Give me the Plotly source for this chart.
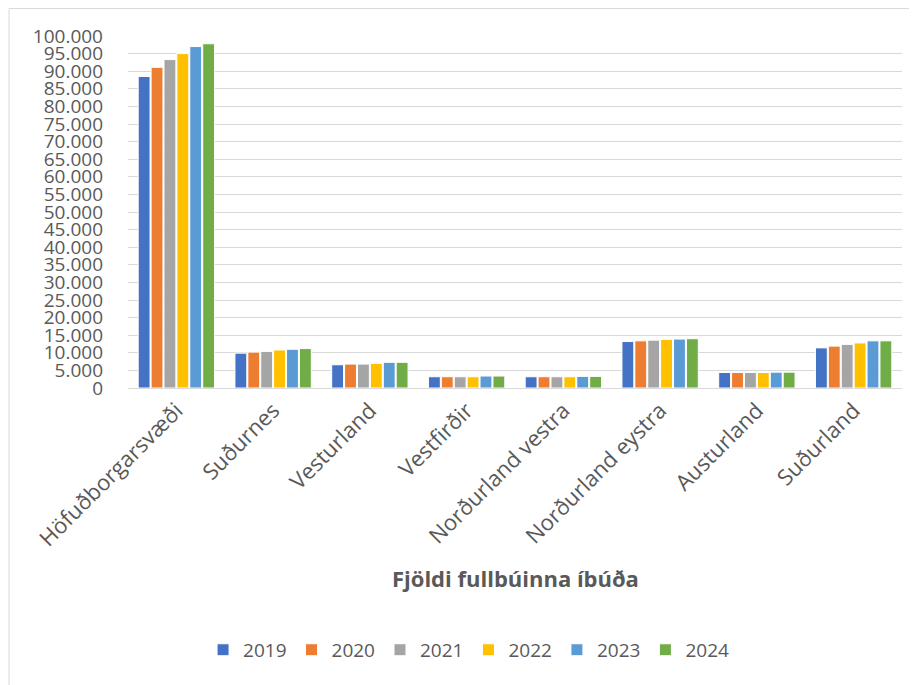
import plotly.graph_objects as go

landshlutar = ['Höfuðborgarsvæði', 'Suðurnes', 'Vesturland', 'Vestfirðir',
               'Norðurland vestra', 'Norðurland eystra', 'Austurland', 'Suðurland']
ar = ['2019', '2020', '2021', '2022', '2023', '2024']
litir = ['#4472C4', '#ED7D31', '#A5A5A5', '#FFC000', '#5B9BD5', '#70AD47']

ibudir_2019 = [88500, 9900, 6600, 3200, 3200, 13200, 4400, 11400]
ibudir_2020 = [91100, 10200, 6800, 3200, 3200, 13400, 4400, 11900]
ibudir_2021 = [93300, 10400, 6800, 3200, 3200, 13600, 4400, 12400]
ibudir_2022 = [95000, 10800, 7000, 3200, 3200, 13800, 4400, 12800]
ibudir_2023 = [97000, 11000, 7300, 3400, 3300, 13900, 4500, 13400]
ibudir_2024 = [97800, 11200, 7300, 3400, 3300, 14000, 4500, 13400]

gogn = [ibudir_2019, ibudir_2020, ibudir_2021, ibudir_2022, ibudir_2023, ibudir_2024]

fig = go.Figure()
for i in range(len(ar)):
    fig.add_trace(go.Bar(x=landshlutar, y=gogn[i], name=ar[i],
                         marker=dict(color=litir[i], line=dict(color='white', width=1))))

# síðan hefur 8px spássíu, svo teiknisvæðið er 120..894 x 28..380 í myndinni
fig.update_layout(
    width=917, height=685,
    barmode='group', bargap=0.2, bargroupgap=0.08,
    separators=',.',
    font=dict(family='Open Sans, sans-serif', color='#595959', size=19),
    plot_bgcolor='white', paper_bgcolor='white',
    margin=dict(l=120, r=23, t=28, b=305),
    xaxis=dict(tickangle=-45, showline=True, linecolor='#D9D9D9', linewidth=1,
               automargin=False, tickfont=dict(size=22, color='#595959')),
    yaxis=dict(range=[0, 100000], dtick=5000, tickformat=',d', automargin=False,
               gridcolor='#D9D9D9', gridwidth=1, zeroline=False,
               ticklabelstandoff=24, tickfont=dict(size=19, color='#595959')),
    legend=dict(orientation='h', x=0.44, xanchor='center', y=-0.744, yanchor='middle',
                font=dict(size=19, color='#595959'), traceorder='normal'),
    annotations=[dict(text='<b>Fjöldi fullbúinna íbúða</b>', xref='paper', yref='paper',
                      x=0.5, y=-0.54, xanchor='center', yanchor='middle', showarrow=False,
                      font=dict(size=22, color='#595959'))],
    shapes=[dict(type='rect', xref='paper', yref='paper', x0=-0.1537, x1=1.04, y0=-0.9, y1=1.078,
                 line=dict(color='#D9D9D9', width=1))]
)

fig.write_html("out.html")
